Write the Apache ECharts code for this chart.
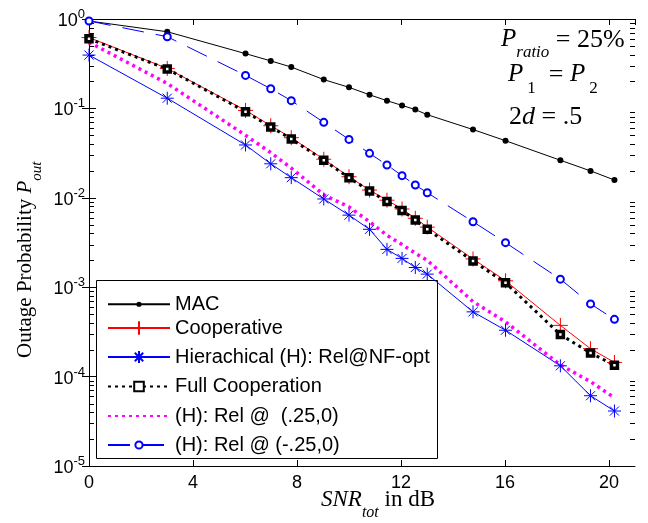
<!DOCTYPE html>
<html>
<head>
<meta charset="utf-8">
<script src="https://cdn.jsdelivr.net/npm/echarts@6/dist/echarts.min.js"></script>
<style>
html,body{margin:0;padding:0;background:#fff}
#main{width:648px;height:523px}
</style>
</head>
<body>
<div id="main"></div>
<script>
// SNR in dB
var snr = [0, 3.01, 6.02, 6.99, 7.78, 9.03, 10, 10.79, 11.46, 12.04, 12.55, 13.01, 14.77, 16.02, 18.13, 19.29, 20.21];

var mac      = [0.95, 0.72, 0.41, 0.34, 0.29, 0.21, 0.172, 0.142, 0.122, 0.108, 0.097, 0.085, 0.058, 0.0435, 0.0263, 0.020, 0.0158];
var coop     = [0.62, 0.28, 0.095, 0.064, 0.047, 0.027, 0.0172, 0.0122, 0.0094, 0.0075, 0.0059, 0.0047, 0.00207, 0.00118, 0.000374, 0.000205, 0.000144];
var hier     = [0.395, 0.13, 0.039, 0.024, 0.0168, 0.0097, 0.0064, 0.00444, 0.00265, 0.0021, 0.00166, 0.0014, 0.00053, 0.00033, 0.000132, 0.0000611, 0.0000412];
var fullCoop = [0.6, 0.276, 0.092, 0.062, 0.0455, 0.0263, 0.0168, 0.0119, 0.0091, 0.0072, 0.00565, 0.00444, 0.00196, 0.00112, 0.000295, 0.000184, 0.000134];
var relPos   = [0.55, 0.19, 0.05, 0.032, 0.0215, 0.0108, 0.0079, 0.0054, 0.0038, 0.003, 0.0024, 0.002, 0.00069, 0.00041, 0.000135, 0.0000877, 0.000058];
var relNeg   = [0.95, 0.634, 0.234, 0.166, 0.122, 0.0698, 0.045, 0.0314, 0.0233, 0.0177, 0.0139, 0.0114, 0.0054, 0.00315, 0.00123, 0.00065, 0.000437];

var names = ['MAC', 'Cooperative', 'Hierachical (H): Rel@NF-opt', 'Full Cooperation', '(H): Rel @  (.25,0)', '(H): Rel @ (-.25,0)'];

// log minor tick positions 2..9 x 10^n
var minorVals = [];
for (var p = -5; p < 0; p++) {
    for (var m = 2; m <= 9; m++) minorVals.push(m * Math.pow(10, p));
}

function pts(arr){
    return snr.map(function(x, i){ return [x, arr[i]]; });
}

var plus = 'path://M0,10L20,10M10,0L10,20';
var star = 'path://M10,0L10,20M0,10L20,10M3,3L17,17M3,17L17,3';

var myChart = echarts.init(document.getElementById('main'));

// one legend per row so each marker keeps its own size
var rowCenter = [297.5, 326.5, 354.5, 382.5, 411, 439.5];
var iconH = [6.5, 17, 15, 12, 10, 9];
var legends = names.map(function(n, i){
    var item = { name: n };
    if (i === 4) item.itemStyle = { color: 'rgba(0,0,0,0)', borderColor: 'rgba(0,0,0,0)' };
    return {
        left: 107, top: rowCenter[i] - iconH[i] / 2,
        padding: 0,
        itemWidth: 62, itemHeight: iconH[i],
        selectedMode: false,
        textStyle: { fontFamily: 'Liberation Sans', fontSize: 20, color: '#000' },
        data: [item]
    };
});

function logAxis(pos){
    return {
        type: 'log', logBase: 10, min: 1e-5, max: 1, position: pos,
        axisLine: { lineStyle: { color: '#000' } },
        axisTick: { inside: true, length: 7, lineStyle: { color: '#000' } },
        axisLabel: { show: false },
        splitLine: { show: false }
    };
}

var yLeft = logAxis('left');
yLeft.axisLabel = {
    show: true, margin: 4, color: '#000',
    formatter: function(v){
        var e = Math.round(Math.log(v) / Math.LN10);
        return '{b|10}{s|' + e + '}';
    },
    rich: {
        b: { fontFamily: 'Liberation Sans', fontSize: 18, color: '#000', verticalAlign: 'top', lineHeight: 22, padding: [4, 0, 0, 0] },
        s: { fontFamily: 'Liberation Sans', fontSize: 13, color: '#000', verticalAlign: 'top', lineHeight: 22 }
    }
};

option = {
    backgroundColor: '#fff',
    animation: false,
    grid: { left: 89, right: 13, top: 19, bottom: 57 },
    legend: legends,
    xAxis: [{
        type: 'value', min: 0, max: 21, interval: 4,
        axisLine: { lineStyle: { color: '#000' } },
        axisTick: { inside: true, length: 6, lineStyle: { color: '#000' } },
        axisLabel: { margin: 8, fontFamily: 'Liberation Sans', fontSize: 18, color: '#000', showMaxLabel: false },
        splitLine: { show: false }
    }, {
        type: 'value', min: 0, max: 21, interval: 4, position: 'top',
        axisLine: { lineStyle: { color: '#000' } },
        axisTick: { inside: true, length: 6, lineStyle: { color: '#000' } },
        axisLabel: { show: false },
        splitLine: { show: false }
    }],
    yAxis: [yLeft, logAxis('right')],
    graphic: [{
        type: 'rect', z: 3,
        shape: { x: 96.5, y: 280.5, width: 341, height: 178 },
        style: { fill: '#fff', stroke: '#000', lineWidth: 1 }
    }, {
        type: 'text', left: 321, top: 488,
        style: {
            text: '{i|SNR}{s|tot}{n| in dB}',
            rich: {
                i: { fontFamily: 'Liberation Serif', fontStyle: 'italic', fontSize: 23, verticalAlign: 'top', lineHeight: 26, fill: '#000' },
                s: { fontFamily: 'Liberation Serif', fontStyle: 'italic', fontSize: 16, verticalAlign: 'top', lineHeight: 16, padding: [17, 0, 0, 0], fill: '#000' },
                n: { fontFamily: 'Liberation Serif', fontSize: 23, verticalAlign: 'top', lineHeight: 26, fill: '#000' }
            }
        }
    }, {
        type: 'text', x: 15, y: 358, rotation: Math.PI / 2,
        style: {
            text: '{n|Outage Probability }{i|P}{s|out}',
            rich: {
                n: { fontFamily: 'Liberation Serif', fontSize: 21, verticalAlign: 'top', lineHeight: 25, fill: '#000' },
                i: { fontFamily: 'Liberation Serif', fontStyle: 'italic', fontSize: 21, verticalAlign: 'top', lineHeight: 25, fill: '#000' },
                s: { fontFamily: 'Liberation Serif', fontStyle: 'italic', fontSize: 15, verticalAlign: 'top', lineHeight: 15, padding: [15, 0, 0, 0], fill: '#000' }
            }
        }
    }, {
        type: 'text', left: 501, top: 27,
        style: {
            text: '{i|P}{s|ratio}{n| = 25%}',
            rich: {
                i: { fontFamily: 'Liberation Serif', fontStyle: 'italic', fontSize: 25, verticalAlign: 'top', lineHeight: 28, fill: '#000' },
                s: { fontFamily: 'Liberation Serif', fontStyle: 'italic', fontSize: 17, verticalAlign: 'top', lineHeight: 17, padding: [17, 0, 0, 0], fill: '#000' },
                n: { fontFamily: 'Liberation Serif', fontSize: 26, verticalAlign: 'top', lineHeight: 28, fill: '#000' }
            }
        }
    }, {
        type: 'text', left: 508, top: 62,
        style: {
            text: '{i|P}{s|1}{n|  = }{i|P}{s|2}',
            rich: {
                i: { fontFamily: 'Liberation Serif', fontStyle: 'italic', fontSize: 25, verticalAlign: 'top', lineHeight: 28, fill: '#000' },
                s: { fontFamily: 'Liberation Serif', fontSize: 17, verticalAlign: 'top', lineHeight: 17, padding: [18, 0, 0, 4], fill: '#000' },
                n: { fontFamily: 'Liberation Serif', fontSize: 26, verticalAlign: 'top', lineHeight: 28, fill: '#000' }
            }
        }
    }, {
        type: 'text', left: 509, top: 104,
        style: {
            text: '{n|2}{i|d}{n| = .5}',
            rich: {
                i: { fontFamily: 'Liberation Serif', fontStyle: 'italic', fontSize: 26, verticalAlign: 'top', lineHeight: 28, fill: '#000' },
                n: { fontFamily: 'Liberation Serif', fontSize: 26, verticalAlign: 'top', lineHeight: 28, fill: '#000' }
            }
        }
    }],
    series: [{
        name: names[0], type: 'line', data: pts(mac),
        symbol: 'circle', symbolSize: 6,
        lineStyle: { color: '#000', width: 1 },
        itemStyle: { color: '#000' }
    }, {
        name: names[1], type: 'line', data: pts(coop),
        symbol: plus, symbolSize: 15, symbolKeepAspect: true,
        lineStyle: { color: '#ff0000', width: 1 },
        itemStyle: { color: '#ff0000', borderColor: '#ff0000', borderWidth: 1 }
    }, {
        name: names[2], type: 'line', data: pts(hier),
        symbol: star, symbolSize: 13, symbolKeepAspect: true,
        lineStyle: { color: '#0000ff', width: 1 },
        itemStyle: { color: '#0000ff', borderColor: '#0000ff', borderWidth: 1 }
    }, {
        name: names[3], type: 'line', data: pts(fullCoop),
        symbol: 'rect', symbolSize: 6,
        lineStyle: { color: '#000', width: 3, type: [3, 4] },
        itemStyle: { color: '#fff', borderColor: '#000', borderWidth: 3.5 }
    }, {
        name: names[4], type: 'line', data: pts(relPos),
        symbol: 'none',
        lineStyle: { color: '#ff00ff', width: 3.5, type: [3, 4] },
        itemStyle: { color: '#ff00ff' }
    }, {
        name: names[5], type: 'line', data: pts(relNeg),
        symbol: 'emptyCircle', symbolSize: 7,
        lineStyle: { color: '#0000ff', width: 1, type: [22, 12] },
        itemStyle: { color: '#0000ff', borderColor: '#0000ff', borderWidth: 1 }
    }, {
        // minor log ticks on the left and right frame
        type: 'custom', silent: true, z: 1,
        data: minorVals.map(function(v){ return [0, v]; }),
        renderItem: function(params, api){
            var cs = params.coordSys;
            var y = Math.round(api.coord([0, api.value(1)])[1]) + 0.5;
            var st = { stroke: '#000', lineWidth: 1 };
            return {
                type: 'group',
                children: [
                    { type: 'line', shape: { x1: cs.x, y1: y, x2: cs.x + 5, y2: y }, style: st },
                    { type: 'line', shape: { x1: cs.x + cs.width - 5, y1: y, x2: cs.x + cs.width, y2: y }, style: st }
                ]
            };
        }
    }]
};
myChart.setOption(option);
</script>
</body>
</html>
